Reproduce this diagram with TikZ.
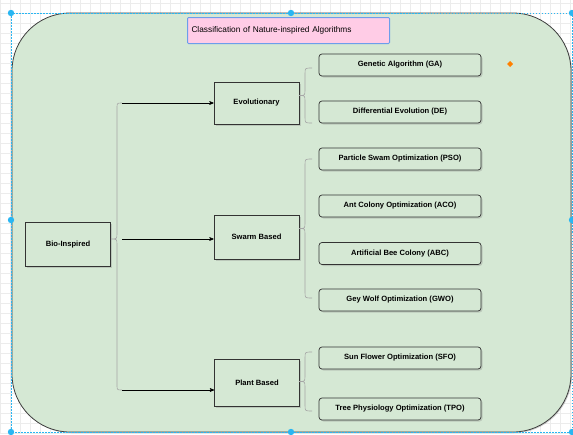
\documentclass[tikz,border=0pt]{standalone}
\usepackage{fontspec}
\setmainfont{Liberation Sans}
\usetikzlibrary{arrows}
\usetikzlibrary{shadows}
\usepackage{xcolor}
\definecolor{natgreen}{HTML}{D5E8D4}
\definecolor{natpink}{HTML}{FFCCE6}
\definecolor{natblue}{HTML}{6C9EEB}
\definecolor{selblue}{HTML}{29B6F2}
\definecolor{gridgray}{HTML}{ECECEC}

\begin{document}
\begin{tikzpicture}[x=1pt, y=-1pt,
 catbox/.style={draw=black!80, fill=natgreen, line width=.7pt, minimum width=85pt, minimum height=44pt,
  font=\fontsize{7.6}{9}\selectfont\bfseries, drop shadow={shadow xshift=1.5pt, shadow yshift=-1.5pt, opacity=.3}},
 leafbox/.style={catbox, rounded corners=3pt, minimum width=162pt, minimum height=22pt},
 brace/.style={draw=black!35, line width=.6pt},
 link/.style={black, ->, >=stealth', line width=.6pt}]
\useasboundingbox (0,0) rectangle (573,434);
\fill[white] (0,0) rectangle (573,434);
\foreach \x in {0,10,...,570} \draw[gridgray, line width=.4pt] (\x,0)--(\x,434);
\foreach \y in {3,13,...,433} \draw[gridgray, line width=.4pt] (0,\y)--(573,\y);
% main panel
\fill[black, opacity=.2, rounded corners=58pt] (13,14) rectangle (572,433);
\draw[black!75, fill=natgreen, line width=.8pt, rounded corners=58pt] (12,13) rectangle (571,432);
\node[draw=natblue, fill=natpink, line width=1pt, rounded corners=1pt, anchor=north west, text width=194pt,
 inner xsep=4pt, minimum height=26pt, align=left, font=\fontsize{8.3}{10}\selectfont] (title) at (187,17)
 {Classification of Nature-inspired Algorithms};
% categories
\node[catbox] (bio) at (68,244.5) {Bio-Inspired};
\node[catbox, minimum height=42pt] (evo) at (256.5,103) {Evolutionary};
\node[catbox] (swarm) at (256.5,237) {Swarm Based};
\node[catbox, minimum height=47pt] (plant) at (257,382.5) {Plant Based};
% algorithms
\foreach \name/\y/\txt in {ga/65/Genetic Algorithm (GA), de/112/Differential Evolution (DE),
 pso/159/Particle Swam Optimization (PSO), aco/206/Ant Colony Optimization (ACO),
 abc/253.5/Artificial Bee Colony (ABC), gwo/300/Gey Wolf Optimization (GWO),
 sfo/358/Sun Flower Optimization (SFO), tpo/409/Tree Physiology Optimization (TPO)}
 \node[leafbox] (\name) at (400,\y) {\txt};
% braces
\coordinate (bioTip) at (111,239);
\coordinate (evoIn) at (122,103);
\coordinate (swarmIn) at (122,239);
\coordinate (plantIn) at (122,390);
\draw[brace] (evoIn) .. controls (117,103) .. (117,108) -- (117,233) .. controls (117,239) .. (bioTip)
 .. controls (117,239) .. (117,245) -- (117,385) .. controls (117,390) .. (plantIn);
\draw[link] (evoIn) -- (evo.west);
\draw[link] (swarmIn) -- (swarmIn -| swarm.west);
\draw[link] (plantIn) -- (plantIn -| plant.west);
\foreach \t/\b in {68/123, 159/298, 352/411}
 \draw[brace] (312,\t) .. controls (305,\t) .. (305,\t+6) -- (305,{(\t+\b)/2-6})
  .. controls (305,{(\t+\b)/2}) .. (299,{(\t+\b)/2}) .. controls (305,{(\t+\b)/2}) .. (305,{(\t+\b)/2+6})
  -- (305,\b-6) .. controls (305,\b) .. (312,\b);
% selection
\fill[orange] (510,61) -- (513,64) -- (510,67) -- (507,64) -- cycle;
\draw[selblue, line width=.6pt, dash pattern=on 1.5pt off 1.5pt] (11,13) rectangle (572,432);
\foreach \x/\y in {11/13, 291/13, 572/13, 11/220, 572/220, 11/432, 291/432, 572/432}
 \fill[selblue] (\x,\y) circle (3.2pt);
\end{tikzpicture}
\end{document}
